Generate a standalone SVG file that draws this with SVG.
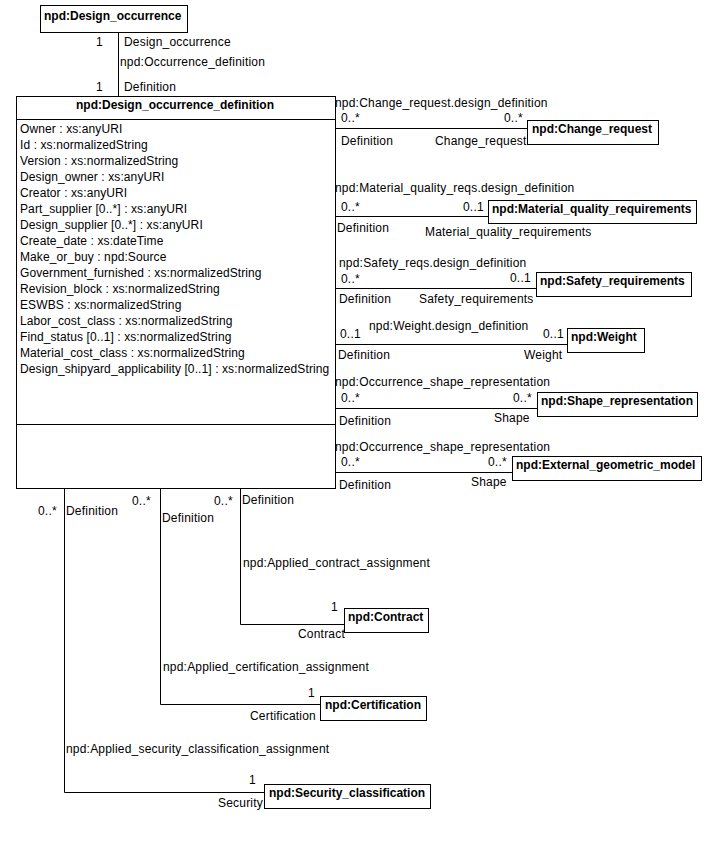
<svg xmlns="http://www.w3.org/2000/svg" width="723" height="859" viewBox="0 0 723 859">
<style>
text{font-family:"Liberation Sans",Arial,sans-serif;font-size:12px;letter-spacing:0.2px;fill:#000}
.a{letter-spacing:0.1px}
.b{font-weight:bold;font-size:12px;letter-spacing:0}
rect{fill:#fff;stroke:#000;stroke-width:1}
.c line,.c polyline{stroke:#000;stroke-width:1;fill:none}
</style>
<rect x="0" y="0" width="723" height="859" style="stroke:none"/>
<g class="c" id="connectors">
<line x1="118.5" y1="32" x2="118.5" y2="97"/>
<line x1="335" y1="128.5" x2="528" y2="128.5"/>
<line x1="335" y1="216.5" x2="488" y2="216.5"/>
<line x1="335" y1="288.5" x2="536" y2="288.5"/>
<line x1="335" y1="344.5" x2="567" y2="344.5"/>
<line x1="335" y1="408.5" x2="537" y2="408.5"/>
<line x1="335" y1="472.5" x2="512" y2="472.5"/>
<polyline points="240.5,488 240.5,624.5 344,624.5"/>
<polyline points="160.5,488 160.5,704.5 320,704.5"/>
<polyline points="64.5,488 64.5,792.5 264,792.5"/>
<text x="96" y="46">1</text>
<text x="124" y="46">Design_occurrence</text>
<text x="120" y="66">npd:Occurrence_definition</text>
<text x="96" y="91">1</text>
<text x="124" y="91">Definition</text>
<text x="335" y="107">npd:Change_request.design_definition</text>
<text x="341" y="122">0..*</text>
<text x="504" y="122">0..*</text>
<text x="341" y="145">Definition</text>
<text x="435" y="145">Change_request</text>
<text x="335" y="192">npd:Material_quality_reqs.design_definition</text>
<text x="341" y="211">0..*</text>
<text x="463" y="211">0..1</text>
<text x="337" y="232">Definition</text>
<text x="425" y="236">Material_quality_requirements</text>
<text x="339" y="267">npd:Safety_reqs.design_definition</text>
<text x="341" y="283">0..*</text>
<text x="510" y="282">0..1</text>
<text x="339" y="303">Definition</text>
<text x="419" y="303">Safety_requirements</text>
<text x="369" y="330">npd:Weight.design_definition</text>
<text x="340" y="338">0..1</text>
<text x="543" y="338">0..1</text>
<text x="338" y="359">Definition</text>
<text x="524" y="359">Weight</text>
<text x="335" y="386">npd:Occurrence_shape_representation</text>
<text x="341" y="402">0..*</text>
<text x="513" y="402">0..*</text>
<text x="339" y="425">Definition</text>
<text x="494" y="422">Shape</text>
<text x="335" y="451">npd:Occurrence_shape_representation</text>
<text x="341" y="466">0..*</text>
<text x="488" y="466">0..*</text>
<text x="339" y="489">Definition</text>
<text x="471" y="486">Shape</text>
<text x="214" y="505">0..*</text>
<text x="242" y="504">Definition</text>
<text x="243" y="567">npd:Applied_contract_assignment</text>
<text x="331" y="611">1</text>
<text x="298" y="638">Contract</text>
<text x="132" y="505">0..*</text>
<text x="162" y="522">Definition</text>
<text x="163" y="671">npd:Applied_certification_assignment</text>
<text x="308" y="697">1</text>
<text x="250" y="720">Certification</text>
<text x="38" y="515">0..*</text>
<text x="66" y="515">Definition</text>
<text x="66" y="753">npd:Applied_security_classification_assignment</text>
<text x="249" y="784">1</text>
<text x="218" y="807">Security</text>
</g>
<g id="design_occurrence">
<rect x="40.5" y="5.5" width="147" height="27"/>
<text class="b" x="44" y="20">npd:Design_occurrence</text>
</g>
<g id="design_occurrence_definition">
<rect x="16.5" y="96.5" width="319" height="392"/>
<line x1="16.5" y1="119.5" x2="335.5" y2="119.5" stroke="#000"/>
<line x1="16.5" y1="424.5" x2="335.5" y2="424.5" stroke="#000"/>
<text class="b" x="175" y="109" text-anchor="middle">npd:Design_occurrence_definition</text>
<text class="a" x="20" y="133">Owner : xs:anyURI</text>
<text class="a" x="20" y="149">Id : xs:normalizedString</text>
<text class="a" x="20" y="165">Version : xs:normalizedString</text>
<text class="a" x="20" y="181">Design_owner : xs:anyURI</text>
<text class="a" x="20" y="197">Creator : xs:anyURI</text>
<text class="a" x="20" y="213">Part_supplier [0..*] : xs:anyURI</text>
<text class="a" x="20" y="229">Design_supplier [0..*] : xs:anyURI</text>
<text class="a" x="20" y="245">Create_date : xs:dateTime</text>
<text class="a" x="20" y="261">Make_or_buy : npd:Source</text>
<text class="a" x="20" y="277">Government_furnished : xs:normalizedString</text>
<text class="a" x="20" y="293">Revision_block : xs:normalizedString</text>
<text class="a" x="20" y="309">ESWBS : xs:normalizedString</text>
<text class="a" x="20" y="325">Labor_cost_class : xs:normalizedString</text>
<text class="a" x="20" y="341">Find_status [0..1] : xs:normalizedString</text>
<text class="a" x="20" y="357">Material_cost_class : xs:normalizedString</text>
<text class="a" x="20" y="373">Design_shipyard_applicability [0..1] : xs:normalizedString</text>
</g>
<g id="change_request">
<rect x="527.5" y="120.5" width="131" height="24"/>
<text class="b" x="532" y="133">npd:Change_request</text>
</g>
<g id="material_quality_requirements">
<rect x="488.5" y="200.5" width="208" height="23"/>
<text class="b" x="492" y="213">npd:Material_quality_requirements</text>
</g>
<g id="safety_requirements">
<rect x="536.5" y="272.5" width="155" height="24"/>
<text class="b" x="540" y="285">npd:Safety_requirements</text>
</g>
<g id="weight">
<rect x="567.5" y="328.5" width="77" height="24"/>
<text class="b" x="571" y="341">npd:Weight</text>
</g>
<g id="shape_representation">
<rect x="537.5" y="392.5" width="160" height="24"/>
<text class="b" x="541" y="405">npd:Shape_representation</text>
</g>
<g id="external_geometric_model">
<rect x="512.5" y="456.5" width="189" height="24"/>
<text class="b" x="516" y="469">npd:External_geometric_model</text>
</g>
<g id="contract">
<rect x="344.5" y="608.5" width="84" height="24"/>
<text class="b" x="348" y="621">npd:Contract</text>
</g>
<g id="certification">
<rect x="320.5" y="696.5" width="106" height="24"/>
<text class="b" x="325" y="709">npd:Certification</text>
</g>
<g id="security_classification">
<rect x="264.5" y="784.5" width="166" height="24"/>
<text class="b" x="269" y="797">npd:Security_classification</text>
</g>
</svg>
